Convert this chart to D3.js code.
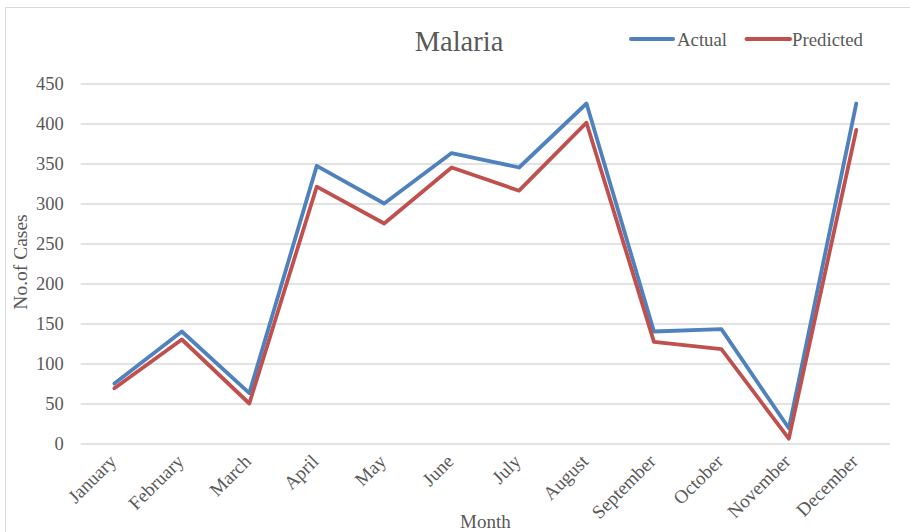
<!DOCTYPE html>
<html>
<head>
<meta charset="utf-8">
<script src="https://cdn.jsdelivr.net/npm/d3@7"></script>
<style>
  html, body { margin: 0; padding: 0; background: #fff; }
  svg { display: block; }
  text { font-family: "Liberation Serif", "Times New Roman", serif; fill: #595959; }
</style>
</head>
<body>
<svg id="chart" width="910" height="532"></svg>
<script>
// Monthly malaria cases: actual vs predicted
const months = ["January", "February", "March", "April", "May", "June",
                "July", "August", "September", "October", "November", "December"];
const actual    = [75, 140, 63, 347, 300, 363, 345, 425, 140, 143, 19, 425];
const predicted = [69, 130, 50, 321, 275, 345, 316, 401, 127, 118, 6, 392];
const yTicks = [0, 50, 100, 150, 200, 250, 300, 350, 400, 450];

const seriesList = [
  { name: "Actual", values: actual, color: "#4F81BD" },
  { name: "Predicted", values: predicted, color: "#C0504D" }
];

const W = 910, H = 532;
const plot = { left: 80.7, right: 890, top: 83.5, bottom: 443.5 };

const svg = d3.select("#chart");

// outer chart frame
svg.append("rect")
  .attr("x", 5.5).attr("y", 7.5)
  .attr("width", W + 10).attr("height", H + 10)
  .attr("fill", "none").attr("stroke", "#d9d9d9").attr("stroke-width", 1);

const x = d3.scaleBand().domain(months).range([plot.left, plot.right]);
const y = d3.scaleLinear().domain([0, 450]).range([plot.bottom, plot.top]);
const cx = m => x(m) + x.bandwidth() / 2;

// horizontal gridlines + y tick labels
const yAxis = d3.axisLeft(y).tickValues(yTicks)
  .tickSize(-(plot.right - plot.left)).tickPadding(17).tickFormat(d3.format("d"));
const gy = svg.append("g").attr("transform", `translate(${plot.left},0)`).call(yAxis);
gy.select(".domain").remove();
gy.selectAll(".tick line").attr("stroke", "#d9d9d9").attr("stroke-width", 1.3);
gy.selectAll(".tick text")
  .attr("font-size", 18.5).attr("fill", "#595959")
  .style("font-family", "'Liberation Serif', serif");

// x labels, rotated
const xAxis = d3.axisBottom(x).tickSize(0).tickPadding(0);
const gx = svg.append("g").attr("transform", `translate(0,${plot.bottom})`).call(xAxis);
gx.select(".domain").remove();
gx.selectAll(".tick text")
  .attr("font-size", 19).attr("fill", "#595959")
  .style("font-family", "'Liberation Serif', serif")
  .attr("text-anchor", "end")
  .attr("dy", 0)
  .attr("transform", "translate(3,19) rotate(-45)");

// series lines
const line = d3.line()
  .x((d, i) => cx(months[i]))
  .y(d => y(d));

seriesList.forEach(s => {
  svg.append("path")
    .datum(s.values)
    .attr("d", line)
    .attr("fill", "none")
    .attr("stroke", s.color)
    .attr("stroke-width", 3.8)
    .attr("stroke-linejoin", "round")
    .attr("stroke-linecap", "round");
});

// title
svg.append("text")
  .attr("x", 459).attr("y", 51)
  .attr("text-anchor", "middle")
  .attr("font-size", 28.5)
  .text("Malaria");

// legend
const legendItems = [
  { name: "Actual", color: "#4F81BD", x0: 631, x1: 673, tx: 677 },
  { name: "Predicted", color: "#C0504D", x0: 746.5, x1: 790, tx: 792 }
];
legendItems.forEach(item => {
  svg.append("line")
    .attr("x1", item.x0).attr("x2", item.x1)
    .attr("y1", 39).attr("y2", 39)
    .attr("stroke", item.color).attr("stroke-width", 4)
    .attr("stroke-linecap", "round");
  svg.append("text")
    .attr("x", item.tx).attr("y", 45.5)
    .attr("font-size", 18.8)
    .text(item.name);
});

// axis titles
svg.append("text")
  .attr("x", (plot.left + plot.right) / 2).attr("y", 528)
  .attr("text-anchor", "middle")
  .attr("font-size", 19)
  .text("Month");

svg.append("text")
  .attr("transform", "translate(27,262) rotate(-90)")
  .attr("text-anchor", "middle")
  .attr("font-size", 19.5)
  .text("No.of Cases");
</script>
</body>
</html>
